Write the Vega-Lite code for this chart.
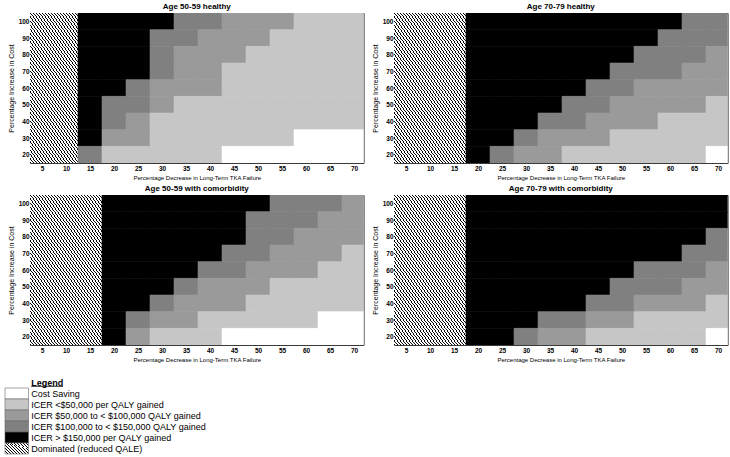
{
  "$schema": "https://vega.github.io/schema/vega-lite/v6.json",
  "background": "white",
  "padding": {"left": 4, "top": 2, "right": 3, "bottom": 0},
  "config": {
    "font": "Liberation Sans",
    "view": {"stroke": "#3a3a3a", "strokeWidth": 1},
    "axis": {"ticks": false, "domain": false, "grid": false, "labelFontSize": 6.5, "labelFontWeight": "bold", "labelColor": "#000000", "titleColor": "#000000", "titleFontWeight": "normal", "labelFlush": false, "labelOverlap": false}
  },
  "spacing": 14,
  "vconcat": [
    {
      "data": {"values": [
        {"p":"Age 50-59 healthy","y":100,"x":5,"c":"H"},{"p":"Age 50-59 healthy","y":100,"x":10,"c":"H"},{"p":"Age 50-59 healthy","y":100,"x":15,"c":"B"},{"p":"Age 50-59 healthy","y":100,"x":20,"c":"B"},{"p":"Age 50-59 healthy","y":100,"x":25,"c":"B"},{"p":"Age 50-59 healthy","y":100,"x":30,"c":"B"},{"p":"Age 50-59 healthy","y":100,"x":35,"c":"D"},{"p":"Age 50-59 healthy","y":100,"x":40,"c":"D"},{"p":"Age 50-59 healthy","y":100,"x":45,"c":"M"},{"p":"Age 50-59 healthy","y":100,"x":50,"c":"M"},{"p":"Age 50-59 healthy","y":100,"x":55,"c":"M"},{"p":"Age 50-59 healthy","y":100,"x":60,"c":"L"},{"p":"Age 50-59 healthy","y":100,"x":65,"c":"L"},{"p":"Age 50-59 healthy","y":100,"x":70,"c":"L"},
        {"p":"Age 50-59 healthy","y":90,"x":5,"c":"H"},{"p":"Age 50-59 healthy","y":90,"x":10,"c":"H"},{"p":"Age 50-59 healthy","y":90,"x":15,"c":"B"},{"p":"Age 50-59 healthy","y":90,"x":20,"c":"B"},{"p":"Age 50-59 healthy","y":90,"x":25,"c":"B"},{"p":"Age 50-59 healthy","y":90,"x":30,"c":"D"},{"p":"Age 50-59 healthy","y":90,"x":35,"c":"D"},{"p":"Age 50-59 healthy","y":90,"x":40,"c":"M"},{"p":"Age 50-59 healthy","y":90,"x":45,"c":"M"},{"p":"Age 50-59 healthy","y":90,"x":50,"c":"M"},{"p":"Age 50-59 healthy","y":90,"x":55,"c":"L"},{"p":"Age 50-59 healthy","y":90,"x":60,"c":"L"},{"p":"Age 50-59 healthy","y":90,"x":65,"c":"L"},{"p":"Age 50-59 healthy","y":90,"x":70,"c":"L"},
        {"p":"Age 50-59 healthy","y":80,"x":5,"c":"H"},{"p":"Age 50-59 healthy","y":80,"x":10,"c":"H"},{"p":"Age 50-59 healthy","y":80,"x":15,"c":"B"},{"p":"Age 50-59 healthy","y":80,"x":20,"c":"B"},{"p":"Age 50-59 healthy","y":80,"x":25,"c":"B"},{"p":"Age 50-59 healthy","y":80,"x":30,"c":"D"},{"p":"Age 50-59 healthy","y":80,"x":35,"c":"M"},{"p":"Age 50-59 healthy","y":80,"x":40,"c":"M"},{"p":"Age 50-59 healthy","y":80,"x":45,"c":"M"},{"p":"Age 50-59 healthy","y":80,"x":50,"c":"L"},{"p":"Age 50-59 healthy","y":80,"x":55,"c":"L"},{"p":"Age 50-59 healthy","y":80,"x":60,"c":"L"},{"p":"Age 50-59 healthy","y":80,"x":65,"c":"L"},{"p":"Age 50-59 healthy","y":80,"x":70,"c":"L"},
        {"p":"Age 50-59 healthy","y":70,"x":5,"c":"H"},{"p":"Age 50-59 healthy","y":70,"x":10,"c":"H"},{"p":"Age 50-59 healthy","y":70,"x":15,"c":"B"},{"p":"Age 50-59 healthy","y":70,"x":20,"c":"B"},{"p":"Age 50-59 healthy","y":70,"x":25,"c":"B"},{"p":"Age 50-59 healthy","y":70,"x":30,"c":"D"},{"p":"Age 50-59 healthy","y":70,"x":35,"c":"M"},{"p":"Age 50-59 healthy","y":70,"x":40,"c":"M"},{"p":"Age 50-59 healthy","y":70,"x":45,"c":"L"},{"p":"Age 50-59 healthy","y":70,"x":50,"c":"L"},{"p":"Age 50-59 healthy","y":70,"x":55,"c":"L"},{"p":"Age 50-59 healthy","y":70,"x":60,"c":"L"},{"p":"Age 50-59 healthy","y":70,"x":65,"c":"L"},{"p":"Age 50-59 healthy","y":70,"x":70,"c":"L"},
        {"p":"Age 50-59 healthy","y":60,"x":5,"c":"H"},{"p":"Age 50-59 healthy","y":60,"x":10,"c":"H"},{"p":"Age 50-59 healthy","y":60,"x":15,"c":"B"},{"p":"Age 50-59 healthy","y":60,"x":20,"c":"B"},{"p":"Age 50-59 healthy","y":60,"x":25,"c":"D"},{"p":"Age 50-59 healthy","y":60,"x":30,"c":"M"},{"p":"Age 50-59 healthy","y":60,"x":35,"c":"M"},{"p":"Age 50-59 healthy","y":60,"x":40,"c":"M"},{"p":"Age 50-59 healthy","y":60,"x":45,"c":"L"},{"p":"Age 50-59 healthy","y":60,"x":50,"c":"L"},{"p":"Age 50-59 healthy","y":60,"x":55,"c":"L"},{"p":"Age 50-59 healthy","y":60,"x":60,"c":"L"},{"p":"Age 50-59 healthy","y":60,"x":65,"c":"L"},{"p":"Age 50-59 healthy","y":60,"x":70,"c":"L"},
        {"p":"Age 50-59 healthy","y":50,"x":5,"c":"H"},{"p":"Age 50-59 healthy","y":50,"x":10,"c":"H"},{"p":"Age 50-59 healthy","y":50,"x":15,"c":"B"},{"p":"Age 50-59 healthy","y":50,"x":20,"c":"D"},{"p":"Age 50-59 healthy","y":50,"x":25,"c":"D"},{"p":"Age 50-59 healthy","y":50,"x":30,"c":"M"},{"p":"Age 50-59 healthy","y":50,"x":35,"c":"L"},{"p":"Age 50-59 healthy","y":50,"x":40,"c":"L"},{"p":"Age 50-59 healthy","y":50,"x":45,"c":"L"},{"p":"Age 50-59 healthy","y":50,"x":50,"c":"L"},{"p":"Age 50-59 healthy","y":50,"x":55,"c":"L"},{"p":"Age 50-59 healthy","y":50,"x":60,"c":"L"},{"p":"Age 50-59 healthy","y":50,"x":65,"c":"L"},{"p":"Age 50-59 healthy","y":50,"x":70,"c":"L"},
        {"p":"Age 50-59 healthy","y":40,"x":5,"c":"H"},{"p":"Age 50-59 healthy","y":40,"x":10,"c":"H"},{"p":"Age 50-59 healthy","y":40,"x":15,"c":"B"},{"p":"Age 50-59 healthy","y":40,"x":20,"c":"D"},{"p":"Age 50-59 healthy","y":40,"x":25,"c":"M"},{"p":"Age 50-59 healthy","y":40,"x":30,"c":"L"},{"p":"Age 50-59 healthy","y":40,"x":35,"c":"L"},{"p":"Age 50-59 healthy","y":40,"x":40,"c":"L"},{"p":"Age 50-59 healthy","y":40,"x":45,"c":"L"},{"p":"Age 50-59 healthy","y":40,"x":50,"c":"L"},{"p":"Age 50-59 healthy","y":40,"x":55,"c":"L"},{"p":"Age 50-59 healthy","y":40,"x":60,"c":"L"},{"p":"Age 50-59 healthy","y":40,"x":65,"c":"L"},{"p":"Age 50-59 healthy","y":40,"x":70,"c":"L"},
        {"p":"Age 50-59 healthy","y":30,"x":5,"c":"H"},{"p":"Age 50-59 healthy","y":30,"x":10,"c":"H"},{"p":"Age 50-59 healthy","y":30,"x":15,"c":"B"},{"p":"Age 50-59 healthy","y":30,"x":20,"c":"M"},{"p":"Age 50-59 healthy","y":30,"x":25,"c":"M"},{"p":"Age 50-59 healthy","y":30,"x":30,"c":"L"},{"p":"Age 50-59 healthy","y":30,"x":35,"c":"L"},{"p":"Age 50-59 healthy","y":30,"x":40,"c":"L"},{"p":"Age 50-59 healthy","y":30,"x":45,"c":"L"},{"p":"Age 50-59 healthy","y":30,"x":50,"c":"L"},{"p":"Age 50-59 healthy","y":30,"x":55,"c":"L"},{"p":"Age 50-59 healthy","y":30,"x":60,"c":"W"},{"p":"Age 50-59 healthy","y":30,"x":65,"c":"W"},{"p":"Age 50-59 healthy","y":30,"x":70,"c":"W"},
        {"p":"Age 50-59 healthy","y":20,"x":5,"c":"H"},{"p":"Age 50-59 healthy","y":20,"x":10,"c":"H"},{"p":"Age 50-59 healthy","y":20,"x":15,"c":"D"},{"p":"Age 50-59 healthy","y":20,"x":20,"c":"L"},{"p":"Age 50-59 healthy","y":20,"x":25,"c":"L"},{"p":"Age 50-59 healthy","y":20,"x":30,"c":"L"},{"p":"Age 50-59 healthy","y":20,"x":35,"c":"L"},{"p":"Age 50-59 healthy","y":20,"x":40,"c":"L"},{"p":"Age 50-59 healthy","y":20,"x":45,"c":"W"},{"p":"Age 50-59 healthy","y":20,"x":50,"c":"W"},{"p":"Age 50-59 healthy","y":20,"x":55,"c":"W"},{"p":"Age 50-59 healthy","y":20,"x":60,"c":"W"},{"p":"Age 50-59 healthy","y":20,"x":65,"c":"W"},{"p":"Age 50-59 healthy","y":20,"x":70,"c":"W"},

        {"p":"Age 70-79 healthy","y":100,"x":5,"c":"H"},{"p":"Age 70-79 healthy","y":100,"x":10,"c":"H"},{"p":"Age 70-79 healthy","y":100,"x":15,"c":"H"},{"p":"Age 70-79 healthy","y":100,"x":20,"c":"B"},{"p":"Age 70-79 healthy","y":100,"x":25,"c":"B"},{"p":"Age 70-79 healthy","y":100,"x":30,"c":"B"},{"p":"Age 70-79 healthy","y":100,"x":35,"c":"B"},{"p":"Age 70-79 healthy","y":100,"x":40,"c":"B"},{"p":"Age 70-79 healthy","y":100,"x":45,"c":"B"},{"p":"Age 70-79 healthy","y":100,"x":50,"c":"B"},{"p":"Age 70-79 healthy","y":100,"x":55,"c":"B"},{"p":"Age 70-79 healthy","y":100,"x":60,"c":"B"},{"p":"Age 70-79 healthy","y":100,"x":65,"c":"D"},{"p":"Age 70-79 healthy","y":100,"x":70,"c":"D"},
        {"p":"Age 70-79 healthy","y":90,"x":5,"c":"H"},{"p":"Age 70-79 healthy","y":90,"x":10,"c":"H"},{"p":"Age 70-79 healthy","y":90,"x":15,"c":"H"},{"p":"Age 70-79 healthy","y":90,"x":20,"c":"B"},{"p":"Age 70-79 healthy","y":90,"x":25,"c":"B"},{"p":"Age 70-79 healthy","y":90,"x":30,"c":"B"},{"p":"Age 70-79 healthy","y":90,"x":35,"c":"B"},{"p":"Age 70-79 healthy","y":90,"x":40,"c":"B"},{"p":"Age 70-79 healthy","y":90,"x":45,"c":"B"},{"p":"Age 70-79 healthy","y":90,"x":50,"c":"B"},{"p":"Age 70-79 healthy","y":90,"x":55,"c":"B"},{"p":"Age 70-79 healthy","y":90,"x":60,"c":"D"},{"p":"Age 70-79 healthy","y":90,"x":65,"c":"D"},{"p":"Age 70-79 healthy","y":90,"x":70,"c":"D"},
        {"p":"Age 70-79 healthy","y":80,"x":5,"c":"H"},{"p":"Age 70-79 healthy","y":80,"x":10,"c":"H"},{"p":"Age 70-79 healthy","y":80,"x":15,"c":"H"},{"p":"Age 70-79 healthy","y":80,"x":20,"c":"B"},{"p":"Age 70-79 healthy","y":80,"x":25,"c":"B"},{"p":"Age 70-79 healthy","y":80,"x":30,"c":"B"},{"p":"Age 70-79 healthy","y":80,"x":35,"c":"B"},{"p":"Age 70-79 healthy","y":80,"x":40,"c":"B"},{"p":"Age 70-79 healthy","y":80,"x":45,"c":"B"},{"p":"Age 70-79 healthy","y":80,"x":50,"c":"B"},{"p":"Age 70-79 healthy","y":80,"x":55,"c":"D"},{"p":"Age 70-79 healthy","y":80,"x":60,"c":"D"},{"p":"Age 70-79 healthy","y":80,"x":65,"c":"D"},{"p":"Age 70-79 healthy","y":80,"x":70,"c":"M"},
        {"p":"Age 70-79 healthy","y":70,"x":5,"c":"H"},{"p":"Age 70-79 healthy","y":70,"x":10,"c":"H"},{"p":"Age 70-79 healthy","y":70,"x":15,"c":"H"},{"p":"Age 70-79 healthy","y":70,"x":20,"c":"B"},{"p":"Age 70-79 healthy","y":70,"x":25,"c":"B"},{"p":"Age 70-79 healthy","y":70,"x":30,"c":"B"},{"p":"Age 70-79 healthy","y":70,"x":35,"c":"B"},{"p":"Age 70-79 healthy","y":70,"x":40,"c":"B"},{"p":"Age 70-79 healthy","y":70,"x":45,"c":"B"},{"p":"Age 70-79 healthy","y":70,"x":50,"c":"D"},{"p":"Age 70-79 healthy","y":70,"x":55,"c":"D"},{"p":"Age 70-79 healthy","y":70,"x":60,"c":"D"},{"p":"Age 70-79 healthy","y":70,"x":65,"c":"M"},{"p":"Age 70-79 healthy","y":70,"x":70,"c":"M"},
        {"p":"Age 70-79 healthy","y":60,"x":5,"c":"H"},{"p":"Age 70-79 healthy","y":60,"x":10,"c":"H"},{"p":"Age 70-79 healthy","y":60,"x":15,"c":"H"},{"p":"Age 70-79 healthy","y":60,"x":20,"c":"B"},{"p":"Age 70-79 healthy","y":60,"x":25,"c":"B"},{"p":"Age 70-79 healthy","y":60,"x":30,"c":"B"},{"p":"Age 70-79 healthy","y":60,"x":35,"c":"B"},{"p":"Age 70-79 healthy","y":60,"x":40,"c":"B"},{"p":"Age 70-79 healthy","y":60,"x":45,"c":"D"},{"p":"Age 70-79 healthy","y":60,"x":50,"c":"D"},{"p":"Age 70-79 healthy","y":60,"x":55,"c":"M"},{"p":"Age 70-79 healthy","y":60,"x":60,"c":"M"},{"p":"Age 70-79 healthy","y":60,"x":65,"c":"M"},{"p":"Age 70-79 healthy","y":60,"x":70,"c":"M"},
        {"p":"Age 70-79 healthy","y":50,"x":5,"c":"H"},{"p":"Age 70-79 healthy","y":50,"x":10,"c":"H"},{"p":"Age 70-79 healthy","y":50,"x":15,"c":"H"},{"p":"Age 70-79 healthy","y":50,"x":20,"c":"B"},{"p":"Age 70-79 healthy","y":50,"x":25,"c":"B"},{"p":"Age 70-79 healthy","y":50,"x":30,"c":"B"},{"p":"Age 70-79 healthy","y":50,"x":35,"c":"B"},{"p":"Age 70-79 healthy","y":50,"x":40,"c":"D"},{"p":"Age 70-79 healthy","y":50,"x":45,"c":"D"},{"p":"Age 70-79 healthy","y":50,"x":50,"c":"M"},{"p":"Age 70-79 healthy","y":50,"x":55,"c":"M"},{"p":"Age 70-79 healthy","y":50,"x":60,"c":"M"},{"p":"Age 70-79 healthy","y":50,"x":65,"c":"M"},{"p":"Age 70-79 healthy","y":50,"x":70,"c":"L"},
        {"p":"Age 70-79 healthy","y":40,"x":5,"c":"H"},{"p":"Age 70-79 healthy","y":40,"x":10,"c":"H"},{"p":"Age 70-79 healthy","y":40,"x":15,"c":"H"},{"p":"Age 70-79 healthy","y":40,"x":20,"c":"B"},{"p":"Age 70-79 healthy","y":40,"x":25,"c":"B"},{"p":"Age 70-79 healthy","y":40,"x":30,"c":"B"},{"p":"Age 70-79 healthy","y":40,"x":35,"c":"D"},{"p":"Age 70-79 healthy","y":40,"x":40,"c":"D"},{"p":"Age 70-79 healthy","y":40,"x":45,"c":"M"},{"p":"Age 70-79 healthy","y":40,"x":50,"c":"M"},{"p":"Age 70-79 healthy","y":40,"x":55,"c":"M"},{"p":"Age 70-79 healthy","y":40,"x":60,"c":"L"},{"p":"Age 70-79 healthy","y":40,"x":65,"c":"L"},{"p":"Age 70-79 healthy","y":40,"x":70,"c":"L"},
        {"p":"Age 70-79 healthy","y":30,"x":5,"c":"H"},{"p":"Age 70-79 healthy","y":30,"x":10,"c":"H"},{"p":"Age 70-79 healthy","y":30,"x":15,"c":"H"},{"p":"Age 70-79 healthy","y":30,"x":20,"c":"B"},{"p":"Age 70-79 healthy","y":30,"x":25,"c":"B"},{"p":"Age 70-79 healthy","y":30,"x":30,"c":"D"},{"p":"Age 70-79 healthy","y":30,"x":35,"c":"M"},{"p":"Age 70-79 healthy","y":30,"x":40,"c":"M"},{"p":"Age 70-79 healthy","y":30,"x":45,"c":"M"},{"p":"Age 70-79 healthy","y":30,"x":50,"c":"L"},{"p":"Age 70-79 healthy","y":30,"x":55,"c":"L"},{"p":"Age 70-79 healthy","y":30,"x":60,"c":"L"},{"p":"Age 70-79 healthy","y":30,"x":65,"c":"L"},{"p":"Age 70-79 healthy","y":30,"x":70,"c":"L"},
        {"p":"Age 70-79 healthy","y":20,"x":5,"c":"H"},{"p":"Age 70-79 healthy","y":20,"x":10,"c":"H"},{"p":"Age 70-79 healthy","y":20,"x":15,"c":"H"},{"p":"Age 70-79 healthy","y":20,"x":20,"c":"B"},{"p":"Age 70-79 healthy","y":20,"x":25,"c":"D"},{"p":"Age 70-79 healthy","y":20,"x":30,"c":"M"},{"p":"Age 70-79 healthy","y":20,"x":35,"c":"M"},{"p":"Age 70-79 healthy","y":20,"x":40,"c":"L"},{"p":"Age 70-79 healthy","y":20,"x":45,"c":"L"},{"p":"Age 70-79 healthy","y":20,"x":50,"c":"L"},{"p":"Age 70-79 healthy","y":20,"x":55,"c":"L"},{"p":"Age 70-79 healthy","y":20,"x":60,"c":"L"},{"p":"Age 70-79 healthy","y":20,"x":65,"c":"L"},{"p":"Age 70-79 healthy","y":20,"x":70,"c":"W"},

        {"p":"Age 50-59 with comorbidity","y":100,"x":5,"c":"H"},{"p":"Age 50-59 with comorbidity","y":100,"x":10,"c":"H"},{"p":"Age 50-59 with comorbidity","y":100,"x":15,"c":"H"},{"p":"Age 50-59 with comorbidity","y":100,"x":20,"c":"B"},{"p":"Age 50-59 with comorbidity","y":100,"x":25,"c":"B"},{"p":"Age 50-59 with comorbidity","y":100,"x":30,"c":"B"},{"p":"Age 50-59 with comorbidity","y":100,"x":35,"c":"B"},{"p":"Age 50-59 with comorbidity","y":100,"x":40,"c":"B"},{"p":"Age 50-59 with comorbidity","y":100,"x":45,"c":"B"},{"p":"Age 50-59 with comorbidity","y":100,"x":50,"c":"B"},{"p":"Age 50-59 with comorbidity","y":100,"x":55,"c":"D"},{"p":"Age 50-59 with comorbidity","y":100,"x":60,"c":"D"},{"p":"Age 50-59 with comorbidity","y":100,"x":65,"c":"D"},{"p":"Age 50-59 with comorbidity","y":100,"x":70,"c":"M"},
        {"p":"Age 50-59 with comorbidity","y":90,"x":5,"c":"H"},{"p":"Age 50-59 with comorbidity","y":90,"x":10,"c":"H"},{"p":"Age 50-59 with comorbidity","y":90,"x":15,"c":"H"},{"p":"Age 50-59 with comorbidity","y":90,"x":20,"c":"B"},{"p":"Age 50-59 with comorbidity","y":90,"x":25,"c":"B"},{"p":"Age 50-59 with comorbidity","y":90,"x":30,"c":"B"},{"p":"Age 50-59 with comorbidity","y":90,"x":35,"c":"B"},{"p":"Age 50-59 with comorbidity","y":90,"x":40,"c":"B"},{"p":"Age 50-59 with comorbidity","y":90,"x":45,"c":"B"},{"p":"Age 50-59 with comorbidity","y":90,"x":50,"c":"D"},{"p":"Age 50-59 with comorbidity","y":90,"x":55,"c":"D"},{"p":"Age 50-59 with comorbidity","y":90,"x":60,"c":"D"},{"p":"Age 50-59 with comorbidity","y":90,"x":65,"c":"M"},{"p":"Age 50-59 with comorbidity","y":90,"x":70,"c":"M"},
        {"p":"Age 50-59 with comorbidity","y":80,"x":5,"c":"H"},{"p":"Age 50-59 with comorbidity","y":80,"x":10,"c":"H"},{"p":"Age 50-59 with comorbidity","y":80,"x":15,"c":"H"},{"p":"Age 50-59 with comorbidity","y":80,"x":20,"c":"B"},{"p":"Age 50-59 with comorbidity","y":80,"x":25,"c":"B"},{"p":"Age 50-59 with comorbidity","y":80,"x":30,"c":"B"},{"p":"Age 50-59 with comorbidity","y":80,"x":35,"c":"B"},{"p":"Age 50-59 with comorbidity","y":80,"x":40,"c":"B"},{"p":"Age 50-59 with comorbidity","y":80,"x":45,"c":"B"},{"p":"Age 50-59 with comorbidity","y":80,"x":50,"c":"D"},{"p":"Age 50-59 with comorbidity","y":80,"x":55,"c":"D"},{"p":"Age 50-59 with comorbidity","y":80,"x":60,"c":"M"},{"p":"Age 50-59 with comorbidity","y":80,"x":65,"c":"M"},{"p":"Age 50-59 with comorbidity","y":80,"x":70,"c":"M"},
        {"p":"Age 50-59 with comorbidity","y":70,"x":5,"c":"H"},{"p":"Age 50-59 with comorbidity","y":70,"x":10,"c":"H"},{"p":"Age 50-59 with comorbidity","y":70,"x":15,"c":"H"},{"p":"Age 50-59 with comorbidity","y":70,"x":20,"c":"B"},{"p":"Age 50-59 with comorbidity","y":70,"x":25,"c":"B"},{"p":"Age 50-59 with comorbidity","y":70,"x":30,"c":"B"},{"p":"Age 50-59 with comorbidity","y":70,"x":35,"c":"B"},{"p":"Age 50-59 with comorbidity","y":70,"x":40,"c":"B"},{"p":"Age 50-59 with comorbidity","y":70,"x":45,"c":"D"},{"p":"Age 50-59 with comorbidity","y":70,"x":50,"c":"D"},{"p":"Age 50-59 with comorbidity","y":70,"x":55,"c":"M"},{"p":"Age 50-59 with comorbidity","y":70,"x":60,"c":"M"},{"p":"Age 50-59 with comorbidity","y":70,"x":65,"c":"M"},{"p":"Age 50-59 with comorbidity","y":70,"x":70,"c":"L"},
        {"p":"Age 50-59 with comorbidity","y":60,"x":5,"c":"H"},{"p":"Age 50-59 with comorbidity","y":60,"x":10,"c":"H"},{"p":"Age 50-59 with comorbidity","y":60,"x":15,"c":"H"},{"p":"Age 50-59 with comorbidity","y":60,"x":20,"c":"B"},{"p":"Age 50-59 with comorbidity","y":60,"x":25,"c":"B"},{"p":"Age 50-59 with comorbidity","y":60,"x":30,"c":"B"},{"p":"Age 50-59 with comorbidity","y":60,"x":35,"c":"B"},{"p":"Age 50-59 with comorbidity","y":60,"x":40,"c":"D"},{"p":"Age 50-59 with comorbidity","y":60,"x":45,"c":"D"},{"p":"Age 50-59 with comorbidity","y":60,"x":50,"c":"M"},{"p":"Age 50-59 with comorbidity","y":60,"x":55,"c":"M"},{"p":"Age 50-59 with comorbidity","y":60,"x":60,"c":"M"},{"p":"Age 50-59 with comorbidity","y":60,"x":65,"c":"L"},{"p":"Age 50-59 with comorbidity","y":60,"x":70,"c":"L"},
        {"p":"Age 50-59 with comorbidity","y":50,"x":5,"c":"H"},{"p":"Age 50-59 with comorbidity","y":50,"x":10,"c":"H"},{"p":"Age 50-59 with comorbidity","y":50,"x":15,"c":"H"},{"p":"Age 50-59 with comorbidity","y":50,"x":20,"c":"B"},{"p":"Age 50-59 with comorbidity","y":50,"x":25,"c":"B"},{"p":"Age 50-59 with comorbidity","y":50,"x":30,"c":"B"},{"p":"Age 50-59 with comorbidity","y":50,"x":35,"c":"D"},{"p":"Age 50-59 with comorbidity","y":50,"x":40,"c":"M"},{"p":"Age 50-59 with comorbidity","y":50,"x":45,"c":"M"},{"p":"Age 50-59 with comorbidity","y":50,"x":50,"c":"M"},{"p":"Age 50-59 with comorbidity","y":50,"x":55,"c":"L"},{"p":"Age 50-59 with comorbidity","y":50,"x":60,"c":"L"},{"p":"Age 50-59 with comorbidity","y":50,"x":65,"c":"L"},{"p":"Age 50-59 with comorbidity","y":50,"x":70,"c":"L"},
        {"p":"Age 50-59 with comorbidity","y":40,"x":5,"c":"H"},{"p":"Age 50-59 with comorbidity","y":40,"x":10,"c":"H"},{"p":"Age 50-59 with comorbidity","y":40,"x":15,"c":"H"},{"p":"Age 50-59 with comorbidity","y":40,"x":20,"c":"B"},{"p":"Age 50-59 with comorbidity","y":40,"x":25,"c":"B"},{"p":"Age 50-59 with comorbidity","y":40,"x":30,"c":"D"},{"p":"Age 50-59 with comorbidity","y":40,"x":35,"c":"M"},{"p":"Age 50-59 with comorbidity","y":40,"x":40,"c":"M"},{"p":"Age 50-59 with comorbidity","y":40,"x":45,"c":"M"},{"p":"Age 50-59 with comorbidity","y":40,"x":50,"c":"L"},{"p":"Age 50-59 with comorbidity","y":40,"x":55,"c":"L"},{"p":"Age 50-59 with comorbidity","y":40,"x":60,"c":"L"},{"p":"Age 50-59 with comorbidity","y":40,"x":65,"c":"L"},{"p":"Age 50-59 with comorbidity","y":40,"x":70,"c":"L"},
        {"p":"Age 50-59 with comorbidity","y":30,"x":5,"c":"H"},{"p":"Age 50-59 with comorbidity","y":30,"x":10,"c":"H"},{"p":"Age 50-59 with comorbidity","y":30,"x":15,"c":"H"},{"p":"Age 50-59 with comorbidity","y":30,"x":20,"c":"B"},{"p":"Age 50-59 with comorbidity","y":30,"x":25,"c":"D"},{"p":"Age 50-59 with comorbidity","y":30,"x":30,"c":"M"},{"p":"Age 50-59 with comorbidity","y":30,"x":35,"c":"M"},{"p":"Age 50-59 with comorbidity","y":30,"x":40,"c":"L"},{"p":"Age 50-59 with comorbidity","y":30,"x":45,"c":"L"},{"p":"Age 50-59 with comorbidity","y":30,"x":50,"c":"L"},{"p":"Age 50-59 with comorbidity","y":30,"x":55,"c":"L"},{"p":"Age 50-59 with comorbidity","y":30,"x":60,"c":"L"},{"p":"Age 50-59 with comorbidity","y":30,"x":65,"c":"W"},{"p":"Age 50-59 with comorbidity","y":30,"x":70,"c":"W"},
        {"p":"Age 50-59 with comorbidity","y":20,"x":5,"c":"H"},{"p":"Age 50-59 with comorbidity","y":20,"x":10,"c":"H"},{"p":"Age 50-59 with comorbidity","y":20,"x":15,"c":"H"},{"p":"Age 50-59 with comorbidity","y":20,"x":20,"c":"B"},{"p":"Age 50-59 with comorbidity","y":20,"x":25,"c":"M"},{"p":"Age 50-59 with comorbidity","y":20,"x":30,"c":"L"},{"p":"Age 50-59 with comorbidity","y":20,"x":35,"c":"L"},{"p":"Age 50-59 with comorbidity","y":20,"x":40,"c":"L"},{"p":"Age 50-59 with comorbidity","y":20,"x":45,"c":"W"},{"p":"Age 50-59 with comorbidity","y":20,"x":50,"c":"W"},{"p":"Age 50-59 with comorbidity","y":20,"x":55,"c":"W"},{"p":"Age 50-59 with comorbidity","y":20,"x":60,"c":"W"},{"p":"Age 50-59 with comorbidity","y":20,"x":65,"c":"W"},{"p":"Age 50-59 with comorbidity","y":20,"x":70,"c":"W"},

        {"p":"Age 70-79 with comorbidity","y":100,"x":5,"c":"H"},{"p":"Age 70-79 with comorbidity","y":100,"x":10,"c":"H"},{"p":"Age 70-79 with comorbidity","y":100,"x":15,"c":"H"},{"p":"Age 70-79 with comorbidity","y":100,"x":20,"c":"B"},{"p":"Age 70-79 with comorbidity","y":100,"x":25,"c":"B"},{"p":"Age 70-79 with comorbidity","y":100,"x":30,"c":"B"},{"p":"Age 70-79 with comorbidity","y":100,"x":35,"c":"B"},{"p":"Age 70-79 with comorbidity","y":100,"x":40,"c":"B"},{"p":"Age 70-79 with comorbidity","y":100,"x":45,"c":"B"},{"p":"Age 70-79 with comorbidity","y":100,"x":50,"c":"B"},{"p":"Age 70-79 with comorbidity","y":100,"x":55,"c":"B"},{"p":"Age 70-79 with comorbidity","y":100,"x":60,"c":"B"},{"p":"Age 70-79 with comorbidity","y":100,"x":65,"c":"B"},{"p":"Age 70-79 with comorbidity","y":100,"x":70,"c":"B"},
        {"p":"Age 70-79 with comorbidity","y":90,"x":5,"c":"H"},{"p":"Age 70-79 with comorbidity","y":90,"x":10,"c":"H"},{"p":"Age 70-79 with comorbidity","y":90,"x":15,"c":"H"},{"p":"Age 70-79 with comorbidity","y":90,"x":20,"c":"B"},{"p":"Age 70-79 with comorbidity","y":90,"x":25,"c":"B"},{"p":"Age 70-79 with comorbidity","y":90,"x":30,"c":"B"},{"p":"Age 70-79 with comorbidity","y":90,"x":35,"c":"B"},{"p":"Age 70-79 with comorbidity","y":90,"x":40,"c":"B"},{"p":"Age 70-79 with comorbidity","y":90,"x":45,"c":"B"},{"p":"Age 70-79 with comorbidity","y":90,"x":50,"c":"B"},{"p":"Age 70-79 with comorbidity","y":90,"x":55,"c":"B"},{"p":"Age 70-79 with comorbidity","y":90,"x":60,"c":"B"},{"p":"Age 70-79 with comorbidity","y":90,"x":65,"c":"B"},{"p":"Age 70-79 with comorbidity","y":90,"x":70,"c":"B"},
        {"p":"Age 70-79 with comorbidity","y":80,"x":5,"c":"H"},{"p":"Age 70-79 with comorbidity","y":80,"x":10,"c":"H"},{"p":"Age 70-79 with comorbidity","y":80,"x":15,"c":"H"},{"p":"Age 70-79 with comorbidity","y":80,"x":20,"c":"B"},{"p":"Age 70-79 with comorbidity","y":80,"x":25,"c":"B"},{"p":"Age 70-79 with comorbidity","y":80,"x":30,"c":"B"},{"p":"Age 70-79 with comorbidity","y":80,"x":35,"c":"B"},{"p":"Age 70-79 with comorbidity","y":80,"x":40,"c":"B"},{"p":"Age 70-79 with comorbidity","y":80,"x":45,"c":"B"},{"p":"Age 70-79 with comorbidity","y":80,"x":50,"c":"B"},{"p":"Age 70-79 with comorbidity","y":80,"x":55,"c":"B"},{"p":"Age 70-79 with comorbidity","y":80,"x":60,"c":"B"},{"p":"Age 70-79 with comorbidity","y":80,"x":65,"c":"B"},{"p":"Age 70-79 with comorbidity","y":80,"x":70,"c":"D"},
        {"p":"Age 70-79 with comorbidity","y":70,"x":5,"c":"H"},{"p":"Age 70-79 with comorbidity","y":70,"x":10,"c":"H"},{"p":"Age 70-79 with comorbidity","y":70,"x":15,"c":"H"},{"p":"Age 70-79 with comorbidity","y":70,"x":20,"c":"B"},{"p":"Age 70-79 with comorbidity","y":70,"x":25,"c":"B"},{"p":"Age 70-79 with comorbidity","y":70,"x":30,"c":"B"},{"p":"Age 70-79 with comorbidity","y":70,"x":35,"c":"B"},{"p":"Age 70-79 with comorbidity","y":70,"x":40,"c":"B"},{"p":"Age 70-79 with comorbidity","y":70,"x":45,"c":"B"},{"p":"Age 70-79 with comorbidity","y":70,"x":50,"c":"B"},{"p":"Age 70-79 with comorbidity","y":70,"x":55,"c":"B"},{"p":"Age 70-79 with comorbidity","y":70,"x":60,"c":"B"},{"p":"Age 70-79 with comorbidity","y":70,"x":65,"c":"D"},{"p":"Age 70-79 with comorbidity","y":70,"x":70,"c":"D"},
        {"p":"Age 70-79 with comorbidity","y":60,"x":5,"c":"H"},{"p":"Age 70-79 with comorbidity","y":60,"x":10,"c":"H"},{"p":"Age 70-79 with comorbidity","y":60,"x":15,"c":"H"},{"p":"Age 70-79 with comorbidity","y":60,"x":20,"c":"B"},{"p":"Age 70-79 with comorbidity","y":60,"x":25,"c":"B"},{"p":"Age 70-79 with comorbidity","y":60,"x":30,"c":"B"},{"p":"Age 70-79 with comorbidity","y":60,"x":35,"c":"B"},{"p":"Age 70-79 with comorbidity","y":60,"x":40,"c":"B"},{"p":"Age 70-79 with comorbidity","y":60,"x":45,"c":"B"},{"p":"Age 70-79 with comorbidity","y":60,"x":50,"c":"B"},{"p":"Age 70-79 with comorbidity","y":60,"x":55,"c":"D"},{"p":"Age 70-79 with comorbidity","y":60,"x":60,"c":"D"},{"p":"Age 70-79 with comorbidity","y":60,"x":65,"c":"D"},{"p":"Age 70-79 with comorbidity","y":60,"x":70,"c":"M"},
        {"p":"Age 70-79 with comorbidity","y":50,"x":5,"c":"H"},{"p":"Age 70-79 with comorbidity","y":50,"x":10,"c":"H"},{"p":"Age 70-79 with comorbidity","y":50,"x":15,"c":"H"},{"p":"Age 70-79 with comorbidity","y":50,"x":20,"c":"B"},{"p":"Age 70-79 with comorbidity","y":50,"x":25,"c":"B"},{"p":"Age 70-79 with comorbidity","y":50,"x":30,"c":"B"},{"p":"Age 70-79 with comorbidity","y":50,"x":35,"c":"B"},{"p":"Age 70-79 with comorbidity","y":50,"x":40,"c":"B"},{"p":"Age 70-79 with comorbidity","y":50,"x":45,"c":"B"},{"p":"Age 70-79 with comorbidity","y":50,"x":50,"c":"D"},{"p":"Age 70-79 with comorbidity","y":50,"x":55,"c":"D"},{"p":"Age 70-79 with comorbidity","y":50,"x":60,"c":"D"},{"p":"Age 70-79 with comorbidity","y":50,"x":65,"c":"M"},{"p":"Age 70-79 with comorbidity","y":50,"x":70,"c":"M"},
        {"p":"Age 70-79 with comorbidity","y":40,"x":5,"c":"H"},{"p":"Age 70-79 with comorbidity","y":40,"x":10,"c":"H"},{"p":"Age 70-79 with comorbidity","y":40,"x":15,"c":"H"},{"p":"Age 70-79 with comorbidity","y":40,"x":20,"c":"B"},{"p":"Age 70-79 with comorbidity","y":40,"x":25,"c":"B"},{"p":"Age 70-79 with comorbidity","y":40,"x":30,"c":"B"},{"p":"Age 70-79 with comorbidity","y":40,"x":35,"c":"B"},{"p":"Age 70-79 with comorbidity","y":40,"x":40,"c":"B"},{"p":"Age 70-79 with comorbidity","y":40,"x":45,"c":"D"},{"p":"Age 70-79 with comorbidity","y":40,"x":50,"c":"D"},{"p":"Age 70-79 with comorbidity","y":40,"x":55,"c":"M"},{"p":"Age 70-79 with comorbidity","y":40,"x":60,"c":"M"},{"p":"Age 70-79 with comorbidity","y":40,"x":65,"c":"M"},{"p":"Age 70-79 with comorbidity","y":40,"x":70,"c":"L"},
        {"p":"Age 70-79 with comorbidity","y":30,"x":5,"c":"H"},{"p":"Age 70-79 with comorbidity","y":30,"x":10,"c":"H"},{"p":"Age 70-79 with comorbidity","y":30,"x":15,"c":"H"},{"p":"Age 70-79 with comorbidity","y":30,"x":20,"c":"B"},{"p":"Age 70-79 with comorbidity","y":30,"x":25,"c":"B"},{"p":"Age 70-79 with comorbidity","y":30,"x":30,"c":"B"},{"p":"Age 70-79 with comorbidity","y":30,"x":35,"c":"D"},{"p":"Age 70-79 with comorbidity","y":30,"x":40,"c":"D"},{"p":"Age 70-79 with comorbidity","y":30,"x":45,"c":"M"},{"p":"Age 70-79 with comorbidity","y":30,"x":50,"c":"M"},{"p":"Age 70-79 with comorbidity","y":30,"x":55,"c":"L"},{"p":"Age 70-79 with comorbidity","y":30,"x":60,"c":"L"},{"p":"Age 70-79 with comorbidity","y":30,"x":65,"c":"L"},{"p":"Age 70-79 with comorbidity","y":30,"x":70,"c":"L"},
        {"p":"Age 70-79 with comorbidity","y":20,"x":5,"c":"H"},{"p":"Age 70-79 with comorbidity","y":20,"x":10,"c":"H"},{"p":"Age 70-79 with comorbidity","y":20,"x":15,"c":"H"},{"p":"Age 70-79 with comorbidity","y":20,"x":20,"c":"B"},{"p":"Age 70-79 with comorbidity","y":20,"x":25,"c":"B"},{"p":"Age 70-79 with comorbidity","y":20,"x":30,"c":"D"},{"p":"Age 70-79 with comorbidity","y":20,"x":35,"c":"M"},{"p":"Age 70-79 with comorbidity","y":20,"x":40,"c":"M"},{"p":"Age 70-79 with comorbidity","y":20,"x":45,"c":"L"},{"p":"Age 70-79 with comorbidity","y":20,"x":50,"c":"L"},{"p":"Age 70-79 with comorbidity","y":20,"x":55,"c":"L"},{"p":"Age 70-79 with comorbidity","y":20,"x":60,"c":"L"},{"p":"Age 70-79 with comorbidity","y":20,"x":65,"c":"L"},{"p":"Age 70-79 with comorbidity","y":20,"x":70,"c":"W"}
      ]},
      "transform": [
        {"bin": {"step": 5, "extent": [2.5, 72.5], "nice": false}, "field": "x", "as": ["x0", "x1"]},
        {"bin": {"step": 10, "extent": [15, 105], "nice": false}, "field": "y", "as": ["y0", "y1"]}
      ],
      "facet": {"field": "p", "type": "nominal", "sort": ["Age 50-59 healthy", "Age 70-79 healthy", "Age 50-59 with comorbidity", "Age 70-79 with comorbidity"], "header": {"title": null, "labelFontSize": 8, "labelFontWeight": "bold", "labelPadding": 2, "labelColor": "#000000"}},
      "columns": 2,
      "spacing": {"row": 3, "column": 5},
      "resolve": {"axis": {"x": "independent", "y": "independent"}},
      "spec": {
        "width": 333.6,
        "height": 150,
        "mark": {"type": "rect", "clip": true, "strokeWidth": 0.6},
        "encoding": {
          "x": {"field": "x0", "type": "quantitative", "scale": {"domain": [2.5, 72], "nice": false, "zero": false}, "axis": {"values": [5, 10, 15, 20, 25, 30, 35, 40, 45, 50, 55, 60, 65, 70], "title": "Percentage Decrease in Long-Term TKA Failure", "titleFontSize": 6, "labelPadding": 2, "titlePadding": 3}},
          "x2": {"field": "x1"},
          "y": {"field": "y0", "type": "quantitative", "scale": {"domain": [15, 105], "nice": false, "zero": false}, "axis": {"values": [20, 30, 40, 50, 60, 70, 80, 90, 100], "title": "Percentage Increase in Cost", "titleFontSize": 7, "labelPadding": 1, "titlePadding": 4}},
          "y2": {"field": "y1"},
          "fill": {
            "condition": {"test": "datum.c === 'H'", "value": {"gradient": "linear", "x1": 0, "y1": 1, "x2": 1.2, "y2": 0.4, "stops": [
              {"offset": 0, "color": "#000000"}, {"offset": 0.02778, "color": "#000000"}, {"offset": 0.02778, "color": "#ffffff"}, {"offset": 0.08333, "color": "#ffffff"},
              {"offset": 0.08333, "color": "#000000"}, {"offset": 0.11111, "color": "#000000"}, {"offset": 0.11111, "color": "#ffffff"}, {"offset": 0.16667, "color": "#ffffff"},
              {"offset": 0.16667, "color": "#000000"}, {"offset": 0.19444, "color": "#000000"}, {"offset": 0.19444, "color": "#ffffff"}, {"offset": 0.25, "color": "#ffffff"},
              {"offset": 0.25, "color": "#000000"}, {"offset": 0.27778, "color": "#000000"}, {"offset": 0.27778, "color": "#ffffff"}, {"offset": 0.33333, "color": "#ffffff"},
              {"offset": 0.33333, "color": "#000000"}, {"offset": 0.36111, "color": "#000000"}, {"offset": 0.36111, "color": "#ffffff"}, {"offset": 0.41667, "color": "#ffffff"},
              {"offset": 0.41667, "color": "#000000"}, {"offset": 0.44444, "color": "#000000"}, {"offset": 0.44444, "color": "#ffffff"}, {"offset": 0.5, "color": "#ffffff"},
              {"offset": 0.5, "color": "#000000"}, {"offset": 0.52778, "color": "#000000"}, {"offset": 0.52778, "color": "#ffffff"}, {"offset": 0.58333, "color": "#ffffff"},
              {"offset": 0.58333, "color": "#000000"}, {"offset": 0.61111, "color": "#000000"}, {"offset": 0.61111, "color": "#ffffff"}, {"offset": 0.66667, "color": "#ffffff"},
              {"offset": 0.66667, "color": "#000000"}, {"offset": 0.69444, "color": "#000000"}, {"offset": 0.69444, "color": "#ffffff"}, {"offset": 0.75, "color": "#ffffff"},
              {"offset": 0.75, "color": "#000000"}, {"offset": 0.77778, "color": "#000000"}, {"offset": 0.77778, "color": "#ffffff"}, {"offset": 0.83333, "color": "#ffffff"},
              {"offset": 0.83333, "color": "#000000"}, {"offset": 0.86111, "color": "#000000"}, {"offset": 0.86111, "color": "#ffffff"}, {"offset": 0.91667, "color": "#ffffff"},
              {"offset": 0.91667, "color": "#000000"}, {"offset": 0.94444, "color": "#000000"}, {"offset": 0.94444, "color": "#ffffff"}, {"offset": 1, "color": "#ffffff"}
            ]}},
            "field": "c", "type": "nominal",
            "scale": {"domain": ["W", "L", "M", "D", "B", "H"], "range": ["#ffffff", "#c6c6c6", "#9a9a9a", "#808080", "#000000", "#ffffff"]},
            "legend": null
          },
          "stroke": {
            "condition": {"test": "datum.c === 'H'", "value": null},
            "field": "c", "type": "nominal",
            "scale": {"domain": ["W", "L", "M", "D", "B", "H"], "range": ["#ffffff", "#c6c6c6", "#9a9a9a", "#808080", "#000000", "#ffffff"]},
            "legend": null
          }
        }
      }
    },
    {
      "width": 240,
      "height": 77,
      "view": {"stroke": null},
      "data": {"values": [
        {"c": "W", "label": "Cost Saving"},
        {"c": "L", "label": "ICER <$50,000 per QALY gained"},
        {"c": "M", "label": "ICER $50,000 to < $100,000 QALY gained"},
        {"c": "D", "label": "ICER $100,000 to < $150,000 QALY gained"},
        {"c": "B", "label": "ICER > $150,000 per QALY gained"},
        {"c": "H", "label": "Dominated (reduced QALE)"}
      ]},
      "encoding": {
        "y": {"field": "label", "type": "nominal", "sort": null, "scale": {"domain": ["Legend", "Cost Saving", "ICER <$50,000 per QALY gained", "ICER $50,000 to < $100,000 QALY gained", "ICER $100,000 to < $150,000 QALY gained", "ICER > $150,000 per QALY gained", "Dominated (reduced QALE)"], "paddingInner": 0, "paddingOuter": 0}, "axis": null}
      },
      "layer": [
        {
          "mark": {"type": "rect", "stroke": "#6a6a6a", "strokeWidth": 0.6},
          "encoding": {
            "x": {"datum": 0, "type": "quantitative", "scale": {"domain": [1.0417, 11.0417], "nice": false, "zero": false}, "axis": null},
            "x2": {"datum": 0.98},
            "fill": {
              "condition": {"test": "datum.c === 'H'", "value": {"gradient": "linear", "x1": 0, "y1": 1, "x2": 1.2, "y2": 0.4, "stops": [
                {"offset": 0, "color": "#000000"}, {"offset": 0.02778, "color": "#000000"}, {"offset": 0.02778, "color": "#ffffff"}, {"offset": 0.08333, "color": "#ffffff"},
                {"offset": 0.08333, "color": "#000000"}, {"offset": 0.11111, "color": "#000000"}, {"offset": 0.11111, "color": "#ffffff"}, {"offset": 0.16667, "color": "#ffffff"},
                {"offset": 0.16667, "color": "#000000"}, {"offset": 0.19444, "color": "#000000"}, {"offset": 0.19444, "color": "#ffffff"}, {"offset": 0.25, "color": "#ffffff"},
                {"offset": 0.25, "color": "#000000"}, {"offset": 0.27778, "color": "#000000"}, {"offset": 0.27778, "color": "#ffffff"}, {"offset": 0.33333, "color": "#ffffff"},
                {"offset": 0.33333, "color": "#000000"}, {"offset": 0.36111, "color": "#000000"}, {"offset": 0.36111, "color": "#ffffff"}, {"offset": 0.41667, "color": "#ffffff"},
                {"offset": 0.41667, "color": "#000000"}, {"offset": 0.44444, "color": "#000000"}, {"offset": 0.44444, "color": "#ffffff"}, {"offset": 0.5, "color": "#ffffff"},
                {"offset": 0.5, "color": "#000000"}, {"offset": 0.52778, "color": "#000000"}, {"offset": 0.52778, "color": "#ffffff"}, {"offset": 0.58333, "color": "#ffffff"},
                {"offset": 0.58333, "color": "#000000"}, {"offset": 0.61111, "color": "#000000"}, {"offset": 0.61111, "color": "#ffffff"}, {"offset": 0.66667, "color": "#ffffff"},
                {"offset": 0.66667, "color": "#000000"}, {"offset": 0.69444, "color": "#000000"}, {"offset": 0.69444, "color": "#ffffff"}, {"offset": 0.75, "color": "#ffffff"},
                {"offset": 0.75, "color": "#000000"}, {"offset": 0.77778, "color": "#000000"}, {"offset": 0.77778, "color": "#ffffff"}, {"offset": 0.83333, "color": "#ffffff"},
                {"offset": 0.83333, "color": "#000000"}, {"offset": 0.86111, "color": "#000000"}, {"offset": 0.86111, "color": "#ffffff"}, {"offset": 0.91667, "color": "#ffffff"},
                {"offset": 0.91667, "color": "#000000"}, {"offset": 0.94444, "color": "#000000"}, {"offset": 0.94444, "color": "#ffffff"}, {"offset": 1, "color": "#ffffff"}
              ]}},
              "field": "c", "type": "nominal",
              "scale": {"domain": ["W", "L", "M", "D", "B", "H"], "range": ["#ffffff", "#c6c6c6", "#9a9a9a", "#808080", "#000000", "#ffffff"]},
              "legend": null
            }
          }
        },
        {
          "mark": {"type": "text", "align": "left", "baseline": "middle", "fontSize": 9, "color": "#000000"},
          "encoding": {"x": {"datum": 1.09, "type": "quantitative"}, "text": {"field": "label"}}
        },
        {
          "data": {"values": [{"label": "Legend"}]},
          "mark": {"type": "text", "align": "left", "baseline": "middle", "fontSize": 9, "fontWeight": "bold", "color": "#000000"},
          "encoding": {"x": {"datum": 1.09, "type": "quantitative"}, "text": {"field": "label"}}
        },
        {
          "data": {"values": [{"label": "Legend"}]},
          "mark": {"type": "rule", "strokeWidth": 0.8, "color": "#000000"},
          "encoding": {"x": {"datum": 1.09, "type": "quantitative"}, "x2": {"datum": 2.42}, "y": {"field": "label", "type": "nominal", "bandPosition": 0.85}}
        }
      ]
    }
  ]
}
